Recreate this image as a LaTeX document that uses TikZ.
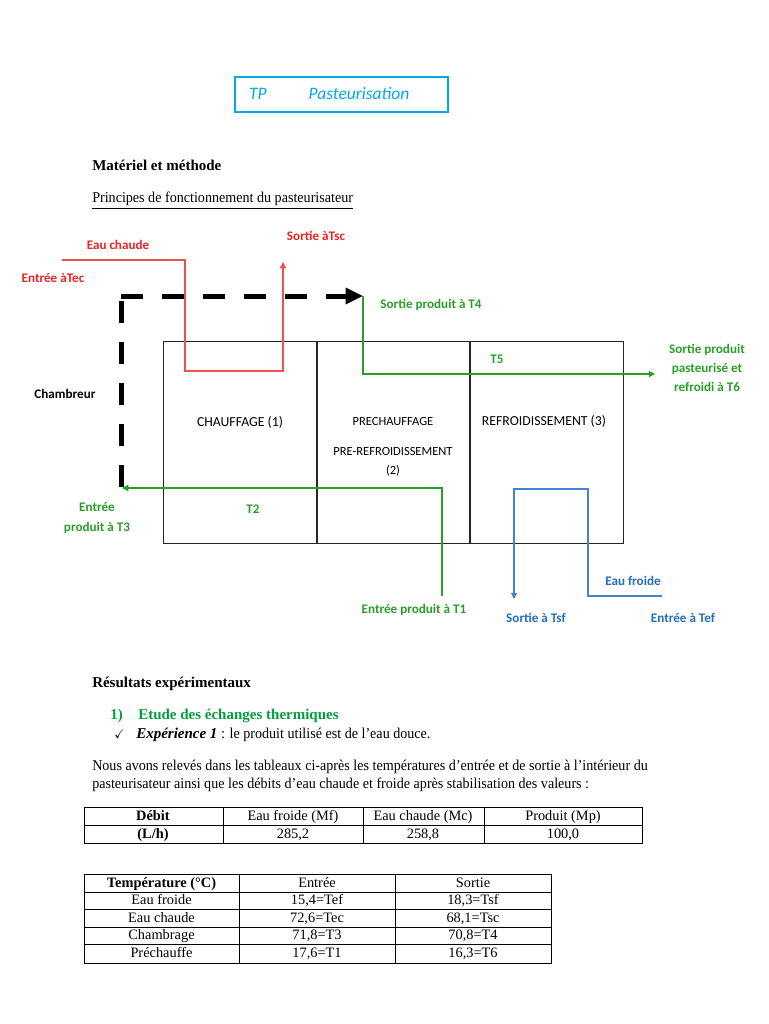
\documentclass[tikz,border=0pt]{standalone}
\usepackage{fontspec}
\setmainfont{Liberation Serif}
\newfontfamily\calibri{Carlito}
\newfontfamily\narrowserif{Liberation Serif}[UprightFeatures={FakeStretch=0.94}]
\usepackage{amssymb}
\usetikzlibrary{positioning,arrows.meta,calc}

\definecolor{titlecyan}{RGB}{0,170,230}
\definecolor{hotred}{RGB}{235,35,35}
\definecolor{hotline}{RGB}{240,80,80}
\definecolor{prodgreen}{RGB}{40,160,40}
\definecolor{coldblue}{RGB}{35,110,190}
\definecolor{headgreen}{RGB}{0,160,60}

\begin{document}
\begin{tikzpicture}[
    x=0.8pt, y=-0.8pt,
    font=\fontsize{12}{14}\selectfont,
    txt/.style={inner sep=0pt, anchor=base west},
    lab/.style={font=\calibri\bfseries\fontsize{10.5}{12}\selectfont, align=center, inner sep=0pt},
    hotlab/.style={lab, text=hotred},
    prodlab/.style={lab, text=prodgreen},
    coldlab/.style={lab, text=coldblue},
    zone/.style={draw=black!85, line width=0.8pt, minimum width=122pt, minimum height=161.6pt, inner sep=0pt},
    zonelab/.style={font=\calibri\fontsize{11}{13}\selectfont, inner sep=0pt},
    hot/.style={hotline, line width=0.9pt},
    prod/.style={prodgreen, line width=0.9pt},
    cold/.style={coldblue!85, line width=0.9pt},
    tip/.style={-{Triangle[length=5pt, width=5pt]}},
    chamb/.style={black, line width=4pt, dash pattern=on 17.6pt off 15.2pt},
    cell/.style={font=\fontsize{11.5}{13}\selectfont, inner sep=0pt, anchor=base},
    hcell/.style={cell, font=\fontsize{11.5}{13}\selectfont\bfseries},
    grid/.style={black, line width=0.7pt}
]
\useasboundingbox (0,0) rectangle (768,1024);

% ------------------------------------------------------------
% titre
% ------------------------------------------------------------
\node[draw=titlecyan, line width=1.4pt, minimum width=170pt, minimum height=28pt] (title) at (341.5,94.5) {};
\node[font=\calibri\itshape\fontsize{14}{16}\selectfont, text=titlecyan, inner sep=0pt] (tp) at (258,94) {TP};
\node[font=\calibri\itshape\fontsize{14}{16}\selectfont, text=titlecyan, inner sep=0pt] (past) at (359,94) {Pasteurisation};

\node[txt] (mat) at (92,171) {\textbf{Matériel et méthode}};
\node[txt, font=\narrowserif\fontsize{12}{14}\selectfont] (princ) at (92,203) {\underline{Principes de fonctionnement du pasteurisateur}};

% ------------------------------------------------------------
% pasteurisateur : trois sections
% ------------------------------------------------------------
\node[zone] (chauf) at (240,442) {};
\node[zone, right=0pt of chauf] (prech) {};
\node[zone, right=0pt of prech] (refr) {};

\node[zonelab] (chaufT) at (240,422) {CHAUFFAGE (1)};
\node[zonelab, font=\calibri\fontsize{10}{12}\selectfont] (prechT) at (393,421) {PRECHAUFFAGE};
\node[zonelab, font=\calibri\fontsize{10}{12}\selectfont] (prechU) at (393,451) {PRE-REFROIDISSEMENT};
\node[zonelab, font=\calibri\fontsize{10}{12}\selectfont] (prechN) at (393,471) {(2)};
\node[zonelab] (refrT) at (544,421) {REFROIDISSEMENT (3)};

% ------------------------------------------------------------
% eau chaude
% ------------------------------------------------------------
\coordinate (tecIn) at (62,260);
\coordinate (tecLow) at (185,371);
\coordinate (tscOut) at (283,262);
\draw[hot, tip] (tecIn) -| (tecLow) -| (tscOut);
\node[hotlab] (ecLab) at (118,245) {Eau chaude};
\node[hotlab] (tecLab) at (53,278) {Entrée àTec};
\node[hotlab] (tscLab) at (316,236) {Sortie àTsc};

% ------------------------------------------------------------
% chambreur
% ------------------------------------------------------------
\coordinate (t3) at (121,487);
\coordinate (chTop) at (121,296);
\coordinate (t4) at (363,296);
\draw[chamb] (t3) -- (121,301);
\draw[chamb, -{Triangle[length=14pt, width=12.5pt]}] (chTop) -- (t4);
\node[lab, text=black] (chamLab) at (65,394) {Chambreur};

% ------------------------------------------------------------
% produit
% ------------------------------------------------------------
\coordinate (t6) at (655,374);
\draw[prod, tip] (t4) |- (t6);
\node[prodlab] (t4Lab) at (431,305) {Sortie produit à T4};
\node[prodlab] (t5Lab) at (497,359) {T5};
\node[prodlab] (t6Lab) at (707,368) {Sortie produit\\[3pt]pasteurisé et\\[3pt]refroidi à T6};

\coordinate (t1) at (442,596);
\coordinate (t3in) at (122,488);
\draw[prod, tip] (t1) |- (t3in);
\node[prodlab] (t1Lab) at (414,610) {Entrée produit à T1};
\node[prodlab] (t2Lab) at (253,509) {T2};
\node[prodlab] (t3Lab) at (97,518) {Entrée\\[4pt]produit à T3};

% ------------------------------------------------------------
% eau froide
% ------------------------------------------------------------
\coordinate (tefIn) at (662,596);
\coordinate (efTop) at (588,489);
\coordinate (tsfOut) at (514,599);
\draw[cold, tip] (tefIn) -| (efTop) -| (tsfOut);
\node[coldlab] (efLab) at (633,581) {Eau froide};
\node[coldlab] (tsfLab) at (536,618) {Sortie à Tsf};
\node[coldlab] (tefLab) at (683,618) {Entrée à Tef};

% ------------------------------------------------------------
% résultats
% ------------------------------------------------------------
\node[txt] (res) at (92,687) {\textbf{Résultats expérimentaux}};
\node[txt, text=headgreen] (num) at (110,719) {\textbf{1)}};
\node[txt, text=headgreen] (etude) at (138,719) {\textbf{Etude des échanges thermiques}};
\node[txt, font=\fontsize{10}{12}\selectfont] (chk) at (114,738) {$\checkmark$};
\node[txt, font=\narrowserif\fontsize{12}{14}\selectfont] (exp) at (136,738) {\textbf{\textit{Expérience 1}} : le produit utilisé est de l’eau douce.};
\node[txt, font=\narrowserif\fontsize{12}{14}\selectfont] (par1) at (92,770) {Nous avons relevés dans les tableaux ci-après les températures d’entrée et de sortie à l’intérieur du};
\node[txt, font=\narrowserif\fontsize{12}{14}\selectfont] (par2) at (92,788) {pasteurisateur ainsi que les débits d’eau chaude et froide après stabilisation des valeurs :};

% ------------------------------------------------------------
% tableau des débits
% ------------------------------------------------------------
\draw[grid] (84,807) rectangle (642,843);
\draw[grid] (84,825) -- (642,825);
\foreach \cx in {223,363,484}
  \draw[grid] (\cx,807) -- (\cx,843);
\node[hcell] (debA) at (153,820.5) {Débit};
\node[hcell] (debB) at (153,838) {(L/h)};
\node[cell] (mfA) at (293,820) {Eau froide (Mf)};
\node[cell] (mfB) at (293,838) {285,2};
\node[cell] (mcA) at (423,820) {Eau chaude (Mc)};
\node[cell] (mcB) at (423,838) {258,8};
\node[cell] (mpA) at (563,820) {Produit (Mp)};
\node[cell] (mpB) at (563,838) {100,0};

% ------------------------------------------------------------
% tableau des températures
% ------------------------------------------------------------
\draw[grid] (84,874) rectangle (551,963);
\foreach \ry in {892,909,927,944}
  \draw[grid] (84,\ry) -- (551,\ry);
\foreach \cx in {239,395}
  \draw[grid] (\cx,874) -- (\cx,963);
\node[hcell] (tHead) at (161.5,887.5) {Température (°C)};
\node[cell] (inHead) at (317,887.5) {Entrée};
\node[cell] (outHead) at (473,887.5) {Sortie};

\node[cell] (efName) at (161.5,904.5) {Eau froide};
\node[cell] (efIn) at (317,904.5) {15,4=Tef};
\node[cell] (efOut) at (473,904.5) {18,3=Tsf};
\node[cell] (ecName) at (161.5,922) {Eau chaude};
\node[cell] (ecIn) at (317,922) {72,6=Tec};
\node[cell] (ecOut) at (473,922) {68,1=Tsc};
\node[cell] (chName) at (161.5,939.5) {Chambrage};
\node[cell] (chIn) at (317,939.5) {71,8=T3};
\node[cell] (chOut) at (473,939.5) {70,8=T4};
\node[cell] (prName) at (161.5,957) {Préchauffe};
\node[cell] (prIn) at (317,957) {17,6=T1};
\node[cell] (prOut) at (473,957) {16,3=T6};

\end{tikzpicture}
\end{document}
